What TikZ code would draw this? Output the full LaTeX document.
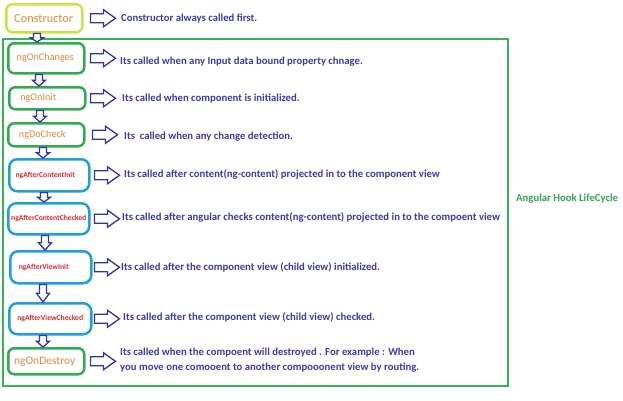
\documentclass[tikz,border=0pt]{standalone}
\usepackage{fontspec}
\setmainfont{Carlito}
\usetikzlibrary{calc}
\definecolor{descblue}{RGB}{58,58,180}
\definecolor{arrowblue}{RGB}{50,50,175}
\definecolor{boxgreen}{RGB}{48,172,78}
\definecolor{rectgreen}{RGB}{52,180,82}
\definecolor{limegreen}{RGB}{200,228,62}
\definecolor{cyanbox}{RGB}{28,160,222}
\definecolor{labelorange}{RGB}{240,134,58}
\definecolor{labelred}{RGB}{232,36,44}
\definecolor{titlegreen}{RGB}{46,168,80}
\tikzset{
  hookbox/.style={draw, line width=2.5pt, rounded corners=6pt, inner sep=0pt, anchor=north west},
  greenbox/.style={hookbox, draw=boxgreen, text=labelorange, font=\fontsize{10.2}{12}\selectfont},
  limebox/.style={hookbox, draw=limegreen, text=labelorange, font=\fontsize{12.3}{14}\selectfont},
  cyanhook/.style={hookbox, draw=cyanbox, rounded corners=8pt, text=labelred, font=\fontsize{7.6}{9}\selectfont\bfseries},
  desc/.style={anchor=base west, inner sep=0pt, text=descblue, font=\fontsize{10.7}{15}\selectfont\bfseries},
  blockarrow/.style={draw=arrowblue, line width=1.3pt, fill=white, line join=miter},
}
\newcommand\rightarr[2]{%
  \draw[blockarrow] ($(#1.east)+(#2,0)$) ++(0,-4.5) -- ++(13,0) -- ++(0,-4) -- ++(12,8.5) -- ++(-12,8.5) -- ++(0,-4) -- ++(-13,0) -- cycle;}
\newcommand\downarr[3]{%
  \coordinate (dtop) at (#1,0 |- #2.south);
  \coordinate (dbot) at (#1,0 |- #3.north);
  \coordinate (dmid) at ($(dtop)!0.5!(dbot)$);
  \draw[blockarrow] ($(dtop)+(-3.5,0)$) -- ($(dmid)+(-3.5,0)$) -- ($(dmid)+(-6.5,0)$) -- (dbot) -- ($(dmid)+(6.5,0)$) -- ($(dmid)+(3.5,0)$) -- ($(dtop)+(3.5,0)$) -- cycle;}
\begin{document}
\begin{tikzpicture}[x=1pt,y=-1pt]
\useasboundingbox (0,0) rectangle (623,400);
% outer frame
\node[draw=rectgreen, line width=1.5pt, minimum width=505pt, minimum height=347pt, inner sep=0pt, anchor=north west] (frame) at (2,38) {};
% hook boxes
\node[limebox, minimum width=76pt, minimum height=28pt] (con) at (5,3) {Constructor\kern1pt};
\node[greenbox, minimum width=76pt, minimum height=30pt] (chg) at (7,42) {ngOnChanges\kern2pt};
\node[greenbox, minimum width=76pt, minimum height=22pt] (ini) at (8,86) {ngOnInit\kern18pt};
\node[greenbox, minimum width=76pt, minimum height=23pt] (dck) at (7,122) {ngDoCheck\kern8pt};
\node[cyanhook, minimum width=80pt, minimum height=32pt] (aci) at (8,158) {ngAfterContentInit\kern8pt};
\node[cyanhook, minimum width=81pt, minimum height=31pt] (acc) at (7,202) {ngAfterContentChecked};
\node[cyanhook, minimum width=81pt, minimum height=32pt] (avi) at (9,250) {ngAfterViewInit\kern14pt};
\node[cyanhook, minimum width=82pt, minimum height=31pt] (avc) at (8,302) {ngAfterViewChecked};
\node[greenbox, font=\fontsize{11.5}{13}\selectfont, minimum width=76pt, minimum height=26pt] (des) at (7,347) {ngOnDestroy\kern3pt};
% descriptions
\node[desc] (t1) at (121,21.5) {Constructor always called first.};
\node[desc] (t2) at (120,64.5) {Its called when any Input data bound property chnage.};
\node[desc] (t3) at (122,101) {Its called when component is initialized.};
\node[desc] (t4) at (124,139.5) {Its\ \ called when any change detection.};
\node[desc] (t5) at (124,177.5) {Its called after content(ng-content) projected in to the component view};
\node[desc] (t6) at (122,220.5) {Its called after angular checks content(ng-content) projected in to the compoent view};
\node[desc] (t7) at (121,270.5) {Its called after the component view (child view) initialized.};
\node[desc] (t8) at (123,320.5) {Its called after the component view (child view) checked.};
\node[desc, align=left, anchor=north west] (t9) at (120,348) {Its called when the compoent will destroyed . For example : When\\you move one comooent to another compooonent view by routing.};
\node[anchor=base west, inner sep=0pt, text=titlegreen, font=\fontsize{10.7}{14}\selectfont\bfseries] (title) at (516,201.5) {Angular Hook LifeCycle};
% right arrows
\rightarr{con}{7}
\rightarr{chg}{5}
\rightarr{ini}{4}
\rightarr{dck}{7}
\rightarr{aci}{4}
\rightarr{acc}{4}
\rightarr{avi}{2}
\rightarr{avc}{2}
\rightarr{des}{5}
% down arrows
\downarr{37}{con}{chg}
\downarr{39}{chg}{ini}
\downarr{40}{ini}{dck}
\downarr{43}{dck}{aci}
\downarr{44}{aci}{acc}
\downarr{45}{acc}{avi}
\downarr{43}{avi}{avc}
\downarr{43}{avc}{des}
\end{tikzpicture}
\end{document}
